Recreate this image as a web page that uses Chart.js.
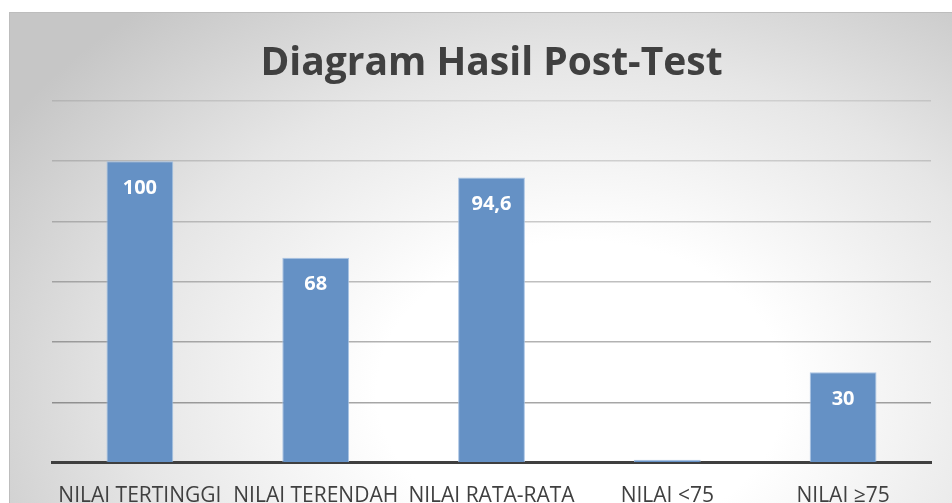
<!DOCTYPE html>
<html>
<head>
<meta charset="utf-8">
<script src="https://cdn.jsdelivr.net/npm/chart.js@4.4.0/dist/chart.umd.min.js"></script>
<style>
  html, body { margin: 0; padding: 0; width: 952px; height: 503px; overflow: hidden; background: #fff; }
  #frame {
    position: absolute; left: 9px; top: 12px; width: 960px; height: 520px;
    border-left: 1px solid #bdbdbd; border-top: 1px solid #bdbdbd;
    background: radial-gradient(ellipse 680px 500px at 571px 378px, #ffffff 0%, #ffffff 30%, #e6e6e6 66%, #c6c6c6 100%);
  }
  #wrap { position: absolute; left: 0; top: 0; width: 952px; height: 530px; }
</style>
</head>
<body>
<div id="frame"></div>
<div id="wrap"><canvas id="postTest"></canvas></div>
<script>
// Post-test results
const categories = ["NILAI TERTINGGI", "NILAI TERENDAH", "NILAI RATA-RATA", "NILAI <75", "NILAI \u226575"];
const values = [100, 68, 94.6, 1, 30];
const yTicks = [0, 20, 40, 60, 80, 100, 120];

// white value labels inside the bars (above when the bar is too short)
const valueLabels = {
    id: "valueLabels",
    afterDatasetsDraw(chart) {
        const ctx = chart.ctx;
        const meta = chart.getDatasetMeta(0);
        ctx.save();
        ctx.font = "bold 20px 'Open Sans'";
        ctx.fillStyle = "#ffffff";
        ctx.textAlign = "center";
        ctx.textBaseline = "middle";
        meta.data.forEach((bar, i) => {
            const h = bar.base - bar.y;
            const y = h > 40 ? bar.y + 27 : bar.y - 22;
            ctx.fillText(String(values[i]).replace(".", ","), bar.x, y);
        });
        ctx.restore();
    },
};

const gridColor = (ctx) => {
    const v = ctx.tick ? ctx.tick.value : 0;
    const a = 0.4 - (v / 120) * 0.3;
    return `rgba(0, 0, 0, ${a.toFixed(2)})`;
};

const config = {
    type: "bar",
    data: {
        labels: categories,
        datasets: [
            {
                data: values,
                backgroundColor: "#6591c5",
                borderColor: "rgba(160, 190, 225, 0.9)",
                borderWidth: 1,
                barPercentage: 0.76,
                categoryPercentage: 0.5,
            },
        ],
    },
    plugins: [valueLabels],
    options: {
        responsive: false,
        animation: false,
        layout: { padding: { left: 52, right: 21, top: 40, bottom: 0 } },
        plugins: {
            legend: { display: false },
            tooltip: { enabled: false },
            title: {
                display: true,
                text: "Diagram Hasil Post-Test",
                color: "#404040",
                font: { family: "'Open Sans'", size: 39, weight: "bold" },
                padding: { top: 0, bottom: 14 },
            },
        },
        scales: {
            x: {
                z: 1,
                grid: { display: false, drawTicks: false },
                border: { display: true, color: "#3f3f3f", width: 3 },
                ticks: {
                    color: "#404040",
                    font: { family: "'Open Sans'", size: 21 },
                    padding: 21,
                    autoSkip: false,
                    maxRotation: 0,
                },
            },
            y: {
                z: 1,
                min: 0,
                max: 120,
                afterBuildTicks: (scale) => {
                    scale.ticks = yTicks.map((v) => ({ value: v }));
                },
                grid: { color: gridColor, lineWidth: 1.5, drawTicks: false },
                border: { display: false },
                ticks: { display: false },
            },
        },
    },
};

const canvas = document.getElementById("postTest");
canvas.width = 952;
canvas.height = 530;
const chart = new Chart(canvas.getContext("2d"), config);
</script>
</body>
</html>
